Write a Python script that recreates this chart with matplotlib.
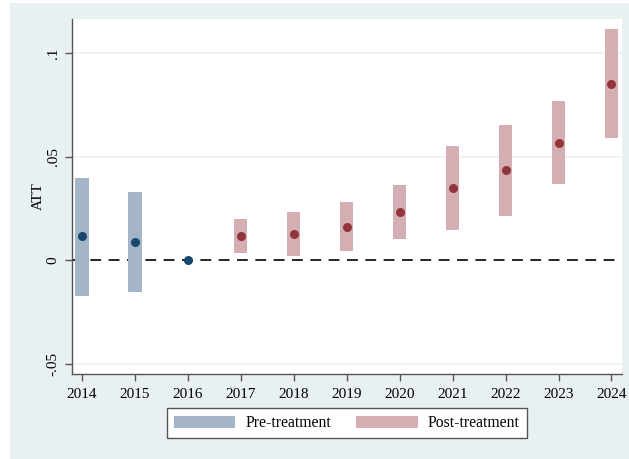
import matplotlib
matplotlib.use("Agg")
import matplotlib.pyplot as plt
from matplotlib.patches import Patch, Rectangle

# event-study estimates
years = [2014, 2015, 2016, 2017, 2018, 2019, 2020, 2021, 2022, 2023, 2024]
att = [0.0116, 0.0089, 0.0, 0.0119, 0.0127, 0.0163, 0.0233, 0.0347, 0.0434, 0.0567, 0.0852]
ci_lo = [-0.0170, -0.0152, None, 0.0037, 0.0021, 0.0043, 0.0101, 0.0148, 0.0212, 0.0368, 0.0588]
ci_hi = [0.0399, 0.0331, None, 0.0200, 0.0231, 0.0282, 0.0362, 0.0550, 0.0653, 0.0769, 0.1116]
pre_years = [2014, 2015, 2016]

y_ticks = [-0.05, 0, 0.05, 0.1]
y_tick_labels = ["-.05", "0", ".05", ".1"]

bg = "#e9f0f2"
pre_bar, pre_dot = "#a3b5c6", "#1a476f"
post_bar, post_dot = "#d4aeb2", "#90353b"

plt.rcParams["font.family"] = ["Liberation Serif", "DejaVu Serif"]
plt.rcParams["font.size"] = 11

fig = plt.figure(figsize=(6.29, 4.59), dpi=100)
fig.patch.set_facecolor("white")
W, H = 629, 459
fig.patches.append(Rectangle((10 / W, 0), 1 - 10 / W, 1 - 3 / H,
                             transform=fig.transFigure, facecolor=bg,
                             edgecolor="none", zorder=-10))

ax = fig.add_axes([72 / W, (H - 374) / H, (621.5 - 72) / W, (374 - 19) / H])
ax.set_facecolor("white")

for yv in y_ticks:
    if yv != 0:
        ax.axhline(yv, color="#eaf2f3", lw=1.2, zorder=0)

for yr, v, lo, hi in zip(years, att, ci_lo, ci_hi):
    pre = yr in pre_years
    if lo is not None:
        ax.bar(yr, hi - lo, bottom=lo, width=0.25,
               color=pre_bar if pre else post_bar, zorder=2)
    ax.plot(yr, v, "o", ms=6.5, color=pre_dot if pre else post_dot,
            mec="none", zorder=3)

ax.axhline(0, color="black", lw=1.2, ls=(0, (6.5, 4.5)), zorder=1)

ax.set_xlim(2013.81, 2024.19)
ax.set_ylim(-0.0548, 0.1164)
ax.set_xticks(years)
ax.set_yticks(y_ticks)
ax.set_yticklabels(y_tick_labels, rotation=90, va="center")
ax.set_ylabel("ATT", labelpad=1)

for s in ["top", "right"]:
    ax.spines[s].set_visible(False)
for s in ["left", "bottom"]:
    ax.spines[s].set_color("#555555")
    ax.spines[s].set_linewidth(1.0)
ax.tick_params(axis="both", direction="out", length=5, width=1.0,
               color="#555555", labelcolor="black", labelsize=11)
ax.tick_params(axis="y", pad=4)
ax.tick_params(axis="x", pad=5)

handles = [Patch(facecolor=pre_bar, edgecolor="none", label="Pre-treatment"),
           Patch(facecolor=post_bar, edgecolor="none", label="Post-treatment")]
leg = fig.legend(handles=handles, loc="center", ncol=2,
                 bbox_to_anchor=(347 / W, 1 - 423.4 / H),
                 handlelength=3.9, handleheight=0.85, handletextpad=0.65,
                 columnspacing=1.6, borderpad=0.45, borderaxespad=0,
                 fancybox=False, framealpha=1, edgecolor="#555555",
                 fontsize=11.3)
leg.get_frame().set_linewidth(1.0)

fig.savefig("out.png", dpi=100, facecolor=fig.get_facecolor())
